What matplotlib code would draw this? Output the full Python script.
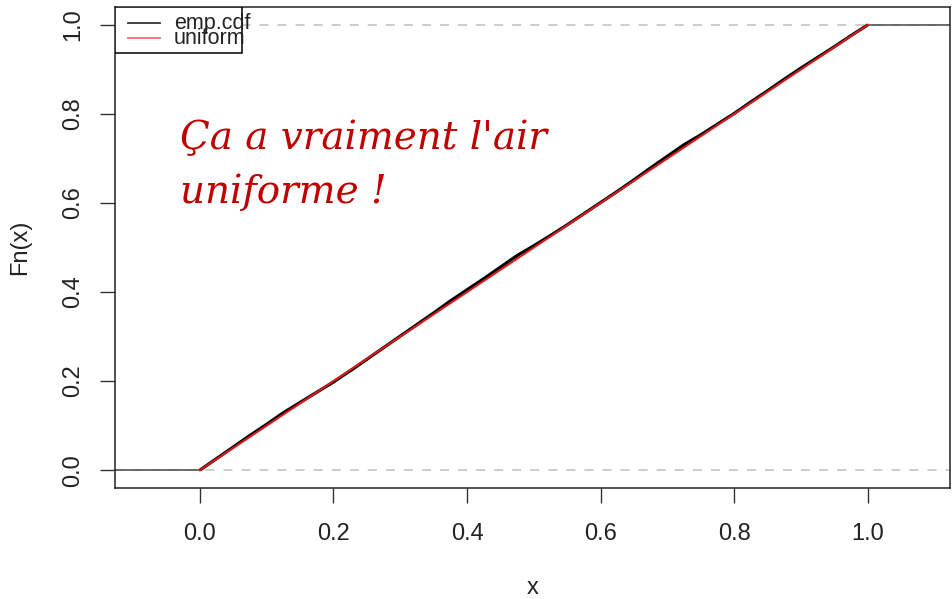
import matplotlib

matplotlib.use("Agg")
import matplotlib.pyplot as plt
import numpy as np

plt.rcParams["font.family"] = ["Liberation Sans", "DejaVu Sans"]

ecdf_x = [0.0, 0.025, 0.05, 0.075, 0.1, 0.125, 0.15, 0.175, 0.2, 0.225,
          0.25, 0.275, 0.3, 0.325, 0.35, 0.375, 0.4, 0.425, 0.45, 0.475,
          0.5, 0.525, 0.55, 0.575, 0.6, 0.625, 0.65, 0.675, 0.7, 0.725,
          0.75, 0.775, 0.8, 0.825, 0.85, 0.875, 0.9, 0.925, 0.95, 0.975, 1.0]
ecdf_y = [0.0, 0.026, 0.052, 0.078, 0.103, 0.129, 0.152, 0.175, 0.198, 0.223,
          0.249, 0.275, 0.301, 0.327, 0.353, 0.380, 0.405, 0.430, 0.456, 0.482,
          0.504, 0.527, 0.551, 0.576, 0.601, 0.626, 0.652, 0.679, 0.705, 0.731,
          0.753, 0.777, 0.801, 0.827, 0.852, 0.878, 0.903, 0.927, 0.951, 0.976, 1.0]

uniform_x = [0.0, 1.0]
uniform_y = [0.0, 1.0]

xlim = (-0.127, 1.123)
ylim = (-0.04, 1.04)
xticks = [0.0, 0.2, 0.4, 0.6, 0.8, 1.0]
yticks = [0.0, 0.2, 0.4, 0.6, 0.8, 1.0]

note_line1 = "Ça a vraiment l'air"
note_line2 = "uniforme !"

fig = plt.figure(figsize=(9.53, 5.99), dpi=100)
ax = fig.add_axes([115 / 953, 1 - 488 / 599, 835 / 953, 481 / 599])

# dashed reference levels
for level in (0.0, 1.0):
    ax.axhline(level, color="#c8c8c8", lw=1.3, dashes=(5, 5), zorder=1)

# ecdf tails
ax.plot([xlim[0], ecdf_x[0]], [0.0, 0.0], color="#555555", lw=1.2, zorder=2)
ax.plot([ecdf_x[-1], xlim[1]], [1.0, 1.0], color="#555555", lw=1.2, zorder=2)

ax.plot(ecdf_x, ecdf_y, color="black", lw=2.3, solid_capstyle="butt", zorder=3)
ax.plot(uniform_x, uniform_y, color="#dd1a1a", lw=1.5, zorder=4)

ax.set_xlim(*xlim)
ax.set_ylim(*ylim)
ax.set_xticks(xticks)
ax.set_yticks(yticks)
ax.set_xticklabels([f"{t:.1f}" for t in xticks])
ax.set_yticklabels([f"{t:.1f}" for t in yticks], rotation=90, va="center")
ax.tick_params(axis="both", length=11, width=1, color="#333333",
               labelsize=17, labelcolor="#222222")
ax.tick_params(axis="x", pad=14)
ax.tick_params(axis="y", pad=11)
for sp in ax.spines.values():
    sp.set_linewidth(1.1)
    sp.set_color("#222222")

ax.set_xlabel("x", fontsize=17, color="#222222", va="center")
ax.xaxis.set_label_coords(0.5, -0.208)
ax.set_ylabel("Fn(x)", fontsize=17, color="#222222", va="center")
ax.yaxis.set_label_coords(-0.114, 0.5)

# legend drawn R-style: box narrower than the text
tr = ax.transAxes
def px2ax(px, py):
    return (px - 115) / 835, (488 - py) / 481

x0, y0 = px2ax(115, 53)
x1, y1 = px2ax(242, 7)
ax.add_patch(plt.Rectangle((x0, y0), x1 - x0, y1 - y0, transform=tr,
                           fill=True, facecolor="white", edgecolor="black",
                           lw=1.1, zorder=5))
for py, col, lab in ((23, "#333333", "emp.cdf"), (38, "#f07070", "uniform")):
    lx0, ly = px2ax(128, py)
    lx1, _ = px2ax(160, py)
    ax.plot([lx0, lx1], [ly, ly], color=col, lw=1.3, transform=tr, zorder=6)
    tx, ty = px2ax(174, py + 1)
    ax.text(tx, ty, lab, transform=tr, fontsize=15.5, color="#222222",
            va="center", ha="left", zorder=6)

# handwritten-like note
ax.text(-0.03, 0.745, note_line1, fontsize=28, color="#c00000",
        family=["DejaVu Serif"], style="italic", va="center", ha="left")
ax.text(-0.03, 0.625, note_line2, fontsize=28, color="#c00000",
        family=["DejaVu Serif"], style="italic", va="center", ha="left")

fig.savefig("out.png", dpi=100)
